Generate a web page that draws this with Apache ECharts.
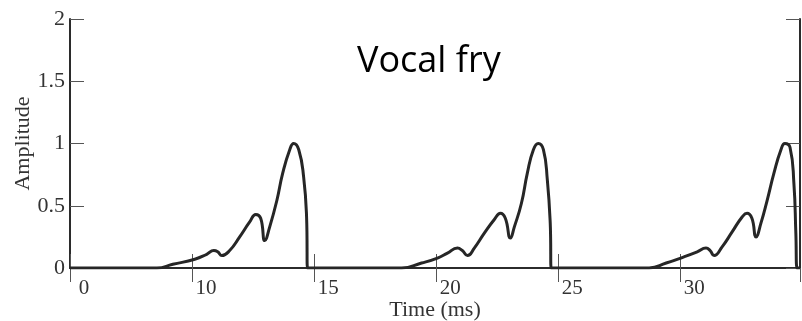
<!DOCTYPE html>
<html>
<head>
<meta charset="utf-8">
<script src="https://cdn.jsdelivr.net/npm/echarts@6/dist/echarts.min.js"></script>
<style>
  html, body { margin: 0; padding: 0; background: #fff; }
  #main { width: 802px; height: 321px; }
</style>
</head>
<body>
<div id="main"></div>
<script>
// tick values and the labels printed under them (the scan shows "0" at the first tick)
var xTickValues = [5, 10, 15, 20, 25, 30];
var xTickLabels = ['0', '10', '15', '20', '25', '30'];
var yTickValues = [0, 0.5, 1, 1.5, 2];

// glottal pulses, [time ms, amplitude]
var pulse1 = [[8.56, 0], [9.21, 0.03], [10.11, 0.07], [10.60, 0.11], [10.89, 0.14], [11.05, 0.13],
    [11.22, 0.10], [11.54, 0.14], [11.95, 0.25], [12.36, 0.37], [12.61, 0.43], [12.81, 0.40],
    [12.98, 0.22], [13.18, 0.33], [13.47, 0.54], [13.71, 0.76], [14.00, 0.95], [14.16, 1.00],
    [14.37, 0.95], [14.57, 0.73], [14.69, 0.41], [14.73, 0]];
var pulse2 = [[18.58, 0], [19.40, 0.04], [20.05, 0.08], [20.46, 0.12], [20.87, 0.16], [21.07, 0.14],
    [21.28, 0.10], [21.56, 0.16], [21.97, 0.28], [22.38, 0.39], [22.63, 0.44], [22.83, 0.40],
    [23.04, 0.24], [23.20, 0.33], [23.49, 0.52], [23.73, 0.76], [23.98, 0.95], [24.18, 1.00],
    [24.39, 0.95], [24.55, 0.71], [24.67, 0.36], [24.71, 0]];
var pulse3 = [[28.72, 0], [29.42, 0.04], [30.15, 0.09], [30.69, 0.13], [31.05, 0.16], [31.22, 0.14],
    [31.38, 0.10], [31.71, 0.17], [32.12, 0.29], [32.53, 0.41], [32.73, 0.44], [32.93, 0.40],
    [33.10, 0.25], [33.30, 0.36], [33.55, 0.54], [33.83, 0.76], [34.12, 0.95], [34.28, 1.00],
    [34.49, 0.97], [34.65, 0.68], [34.73, 0.28], [34.78, 0]];

var xMin = 5, xMax = 34.9;

var chart = echarts.init(document.getElementById('main'));

var axisColor = '#2b2b2b';
var serif = 'Liberation Serif';

function xAxisBase(pos, showLabel) {
    return {
        type: 'value',
        position: pos,
        min: xMin,
        max: xMax,
        interval: 5,
        axisLine: { show: true, lineStyle: { color: axisColor, width: 2 } },
        axisTick: { show: true, inside: true, length: 14, lineStyle: { color: '#555', width: 1 } },
        splitLine: { show: false },
        axisLabel: {
            show: showLabel,
            showMaxLabel: false,
            margin: 10,
            padding: [0, 0, 0, 28],
            fontFamily: serif,
            fontSize: 21,
            color: '#333',
            formatter: function (v) {
                var i = xTickValues.indexOf(v);
                return i >= 0 ? xTickLabels[i] : '';
            }
        }
    };
}

function yAxisBase(pos, showLabel) {
    return {
        type: 'value',
        position: pos,
        min: yTickValues[0],
        max: yTickValues[yTickValues.length - 1],
        interval: 0.5,
        axisLine: { show: true, lineStyle: { color: axisColor, width: 2 } },
        axisTick: { show: true, inside: true, length: 14, lineStyle: { color: '#555', width: 1 } },
        splitLine: { show: false },
        axisLabel: {
            show: showLabel,
            margin: 5,
            fontFamily: serif,
            fontSize: 22,
            color: '#333'
        }
    };
}

var xBottom = xAxisBase('bottom', true);
xBottom.name = 'Time (ms)';
xBottom.nameLocation = 'middle';
xBottom.nameGap = 31;
xBottom.nameMoveOverlap = false;
xBottom.nameTextStyle = { fontFamily: serif, fontSize: 22, color: '#333' };

var yLeft = yAxisBase('left', true);
yLeft.name = 'Amplitude';
yLeft.nameLocation = 'middle';
yLeft.nameGap = 36;
yLeft.nameMoveOverlap = false;
yLeft.nameTextStyle = { fontFamily: serif, fontSize: 22, color: '#333' };

var signal = [[xMin, 0]].concat(pulse1, pulse2, pulse3, [[xMax, 0]]);

var option = {
    backgroundColor: '#ffffff',
    animation: false,
    grid: { left: 70, right: 2, top: 19, bottom: 53, outerBoundsMode: 'none' },
    xAxis: [xBottom, xAxisBase('top', false)],
    yAxis: [yLeft, yAxisBase('right', false)],
    graphic: [{
        type: 'text',
        left: 357,
        top: 44,
        style: {
            text: 'Vocal fry',
            fontFamily: 'Open Sans',
            fontSize: 36,
            fill: '#000'
        }
    }],
    series: [{
        type: 'line',
        data: signal,
        showSymbol: false,
        smooth: 0.5,
        lineStyle: { color: '#262626', width: 3 }
    }]
};

chart.setOption(option);
</script>
</body>
</html>
